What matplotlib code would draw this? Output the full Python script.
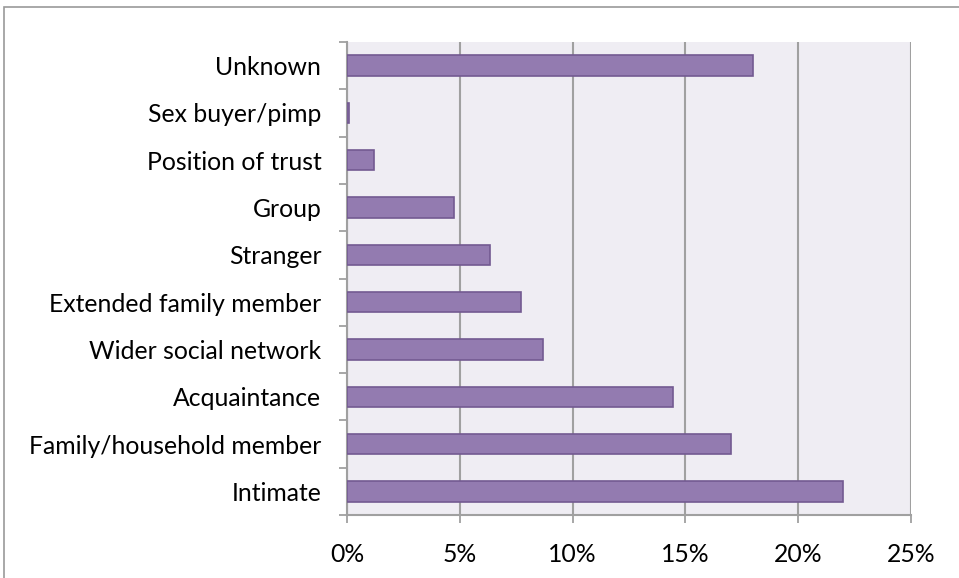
import matplotlib
matplotlib.use("Agg")
import matplotlib.pyplot as plt
from matplotlib.patches import Rectangle
from matplotlib.ticker import FuncFormatter

categories = ["Intimate", "Family/household member", "Acquaintance",
              "Wider social network", "Extended family member", "Stranger",
              "Group", "Position of trust", "Sex buyer/pimp", "Unknown"]
values = [22.0, 17.0, 14.45, 8.7, 7.7, 6.35, 4.75, 1.2, 0.1, 18.0]
xticks = [0, 5, 10, 15, 20, 25]

plt.rcParams['font.family'] = ['Lato', 'DejaVu Sans']

fig = plt.figure(figsize=(9.59, 5.78), dpi=100)
ax = fig.add_axes([347/959, 1 - 515/578, (911 - 347)/959, (515 - 42)/578])
ax.set_facecolor("#EFEDF3")

grid_c = "#A0A0A0"
ypos = list(range(len(categories)))
ax.barh(ypos, values, height=0.43, color="#937BB0", edgecolor="#735A91",
        linewidth=1.2, zorder=3)

ax.set_xlim(0, 25)
ax.set_ylim(-0.5, len(categories) - 0.5)
ax.set_xticks(xticks)
ax.xaxis.set_major_formatter(FuncFormatter(lambda v, p: f"{int(v)}%"))
ax.set_yticks(ypos)
ax.set_yticklabels(categories)
ax.set_yticks([i - 0.5 for i in range(len(categories) + 1)], minor=True)
ax.tick_params(axis='y', which='major', length=0, pad=18.5, labelsize=17.8)
ax.tick_params(axis='y', which='minor', length=6, width=1.3, color=grid_c)
ax.tick_params(axis='x', length=6, width=1.3, color=grid_c, pad=14, labelsize=17.8)

ax.grid(axis='x', color=grid_c, linewidth=1.5, zorder=0)
ax.set_axisbelow(True)
for s in ["top", "right"]:
    ax.spines[s].set_visible(False)
for s in ["left", "bottom"]:
    ax.spines[s].set_color(grid_c)
    ax.spines[s].set_linewidth(1.5)

# outer chart frame
fig.patches.append(Rectangle((4/959, -0.1), 1.1, 1 - 7/578 + 0.1,
                             transform=fig.transFigure, fill=False,
                             edgecolor="#9A9A9A", linewidth=1.2))

fig.savefig("out.png", dpi=100)
